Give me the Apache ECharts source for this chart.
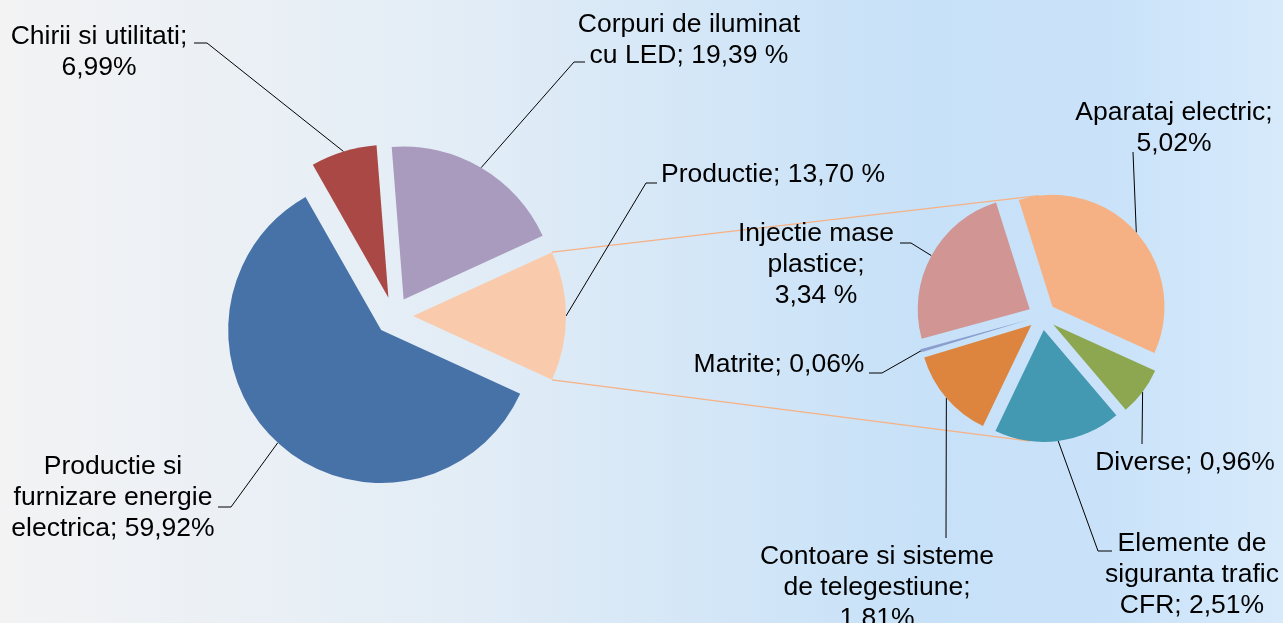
<!DOCTYPE html>
<html>
<head>
<meta charset="utf-8">
<script src="https://cdn.jsdelivr.net/npm/echarts@6/dist/echarts.min.js"></script>
<style>
  html, body { margin: 0; padding: 0; }
  #chart {
    width: 1283px; height: 623px;
    background: linear-gradient(to right, #f3f3f4 0%, #e3edf6 35%, #c7e1f8 72%, #c9e2f9 86%, #d7eafb 100%);
  }
</style>
</head>
<body>
<div id="chart"></div>
<script>
// pie principal
var mainNames = ['Productie', 'Productie si\nfurnizare energie\nelectrica', 'Chirii si utilitati', 'Corpuri de iluminat\ncu LED'];
var mainValues = [13.70, 59.92, 6.99, 19.39];
var mainSep = ['; ', '; ', ';\n', '; '];
var mainUnit = [' %', '%', '%', ' %'];
var mainColors = ['#f9cbac', '#4672a8', '#aa4845', '#a99bbd'];

// pie secundar (detaliu Productie)
var subNames = ['Aparataj electric', 'Diverse', 'Elemente de\nsiguranta trafic\nCFR', 'Contoare si sisteme\nde telegestiune', 'Matrite', 'Injectie mase\nplastice'];
var subValues = [5.02, 0.96, 2.51, 1.81, 0.06, 3.34];
var subSep = [';\n', '; ', '; ', ';\n', '; ', ';\n'];
var subUnit = ['%', '%', '%', '%', '%', ' %'];
var subColors = ['#f5b183', '#8ca74f', '#4399b1', '#dd853f', '#8b9fcf', '#d19594'];

// layout
var c1 = [394, 316], r1 = 153, off1 = 19;
var c2 = [1042, 316], r2 = 112, off2 = 14;
var subStart = 107.5;
var mainStart = mainValues[0] / sum(mainValues) * 180;

var mainLabelPos = [[773, 175], [113, 498], [99, 52], [689, 40]];
var subLabelPos = [[1174, 128], [1185, 463], [1192, 575], [877, 588], [779, 365], [816, 265]];
// puncte ghidaj (dupa punctul de pe arc)
var mainGuide = [[[646, 183], [657, 183]], [[231, 507], [218, 507]], [[207, 43], [194, 43]], [[574, 62], [585, 62]]];
var subGuide = [[[1133, 152]], [[1142, 444]], [[1098, 551], [1112, 551]], [[946, 538]], [[882, 373], [869, 373]], [[911, 243], [900, 243]]];

function sum(a) { return a.reduce(function (s, v) { return s + v; }, 0); }

function slices(values, startAngle) {
  var total = sum(values), a = -startAngle, res = [];
  values.forEach(function (v) {
    var span = v / total * 360;
    res.push({ from: a, to: a + span, mid: a + span / 2 });
    a += span;
  });
  return res;
}

function pt(c, off, mid, r, ang) {
  var m = mid * Math.PI / 180, t = ang * Math.PI / 180;
  return [c[0] + off * Math.cos(m) + r * Math.cos(t), c[1] + off * Math.sin(m) + r * Math.sin(t)];
}

function findSlice(sl, ang) {
  for (var i = 0; i < sl.length; i++) {
    var a = ang;
    while (a < sl[i].from) a += 360;
    if (a <= sl[i].to) return sl[i];
  }
  return sl[0];
}

function fmt(v) { return v.toFixed(2).replace('.', ','); }

var mainSl = slices(mainValues, mainStart);
var subSl = slices(subValues, subStart);

var graphics = [];
function guide(c, off, r, s, rest) {
  var pts = [pt(c, off, s.mid, r, s.mid)].concat(rest);
  graphics.push({
    type: 'polyline', z: 1, silent: true,
    shape: { points: pts },
    style: { stroke: '#000', lineWidth: 1, fill: null }
  });
}
function label(text, pos) {
  graphics.push({
    type: 'text', z: 2, silent: true, x: pos[0], y: pos[1],
    style: {
      text: text, fill: '#000',
      font: '26.5px "Liberation Sans", Arial, sans-serif',
      lineHeight: 31, align: 'center', verticalAlign: 'middle'
    }
  });
}
mainSl.forEach(function (s, i) {
  guide(c1, off1, r1, s, mainGuide[i]);
  label(mainNames[i] + mainSep[i] + fmt(mainValues[i]) + mainUnit[i], mainLabelPos[i]);
});
subSl.forEach(function (s, i) {
  guide(c2, off2, r2, s, subGuide[i]);
  label(subNames[i] + subSep[i] + fmt(subValues[i]) + subUnit[i], subLabelPos[i]);
});

// linii de legatura intre cele doua pie-uri
var p0 = mainSl[0];
var topHost = findSlice(subSl, -97), botHost = findSlice(subSl, 97);
var links = [
  [pt(c1, off1, p0.mid, r1, p0.from), pt(c2, off2, topHost.mid, r2, -97)],
  [pt(c1, off1, p0.mid, r1, p0.to), pt(c2, off2, botHost.mid, r2, 97)]
];
links.forEach(function (l) {
  graphics.push({
    type: 'line', z: 0, silent: true,
    shape: { x1: l[0][0], y1: l[0][1], x2: l[1][0], y2: l[1][1] },
    style: { stroke: '#f6b184', lineWidth: 1.3 }
  });
});

function makeData(names, values, colors) {
  return names.map(function (n, i) {
    return { name: n, value: values[i], selected: true, itemStyle: { color: colors[i] } };
  });
}

function pieSeries(center, radius, start, offset, data) {
  return {
    type: 'pie',
    center: center,
    radius: radius,
    startAngle: start,
    clockwise: true,
    selectedMode: 'multiple',
    selectedOffset: offset,
    silent: true,
    emphasis: { disabled: true },
    select: { itemStyle: { borderWidth: 0 } },
    itemStyle: { borderWidth: 0 },
    label: { show: false },
    labelLine: { show: false },
    data: data
  };
}

var myChart = echarts.init(document.getElementById('chart'));
var option = {
  animation: false,
  backgroundColor: 'transparent',
  graphic: { elements: graphics },
  series: [
    pieSeries(c1, r1, mainStart, off1, makeData(mainNames, mainValues, mainColors)),
    pieSeries(c2, r2, subStart, off2, makeData(subNames, subValues, subColors))
  ]
};
myChart.setOption(option);
</script>
</body>
</html>
